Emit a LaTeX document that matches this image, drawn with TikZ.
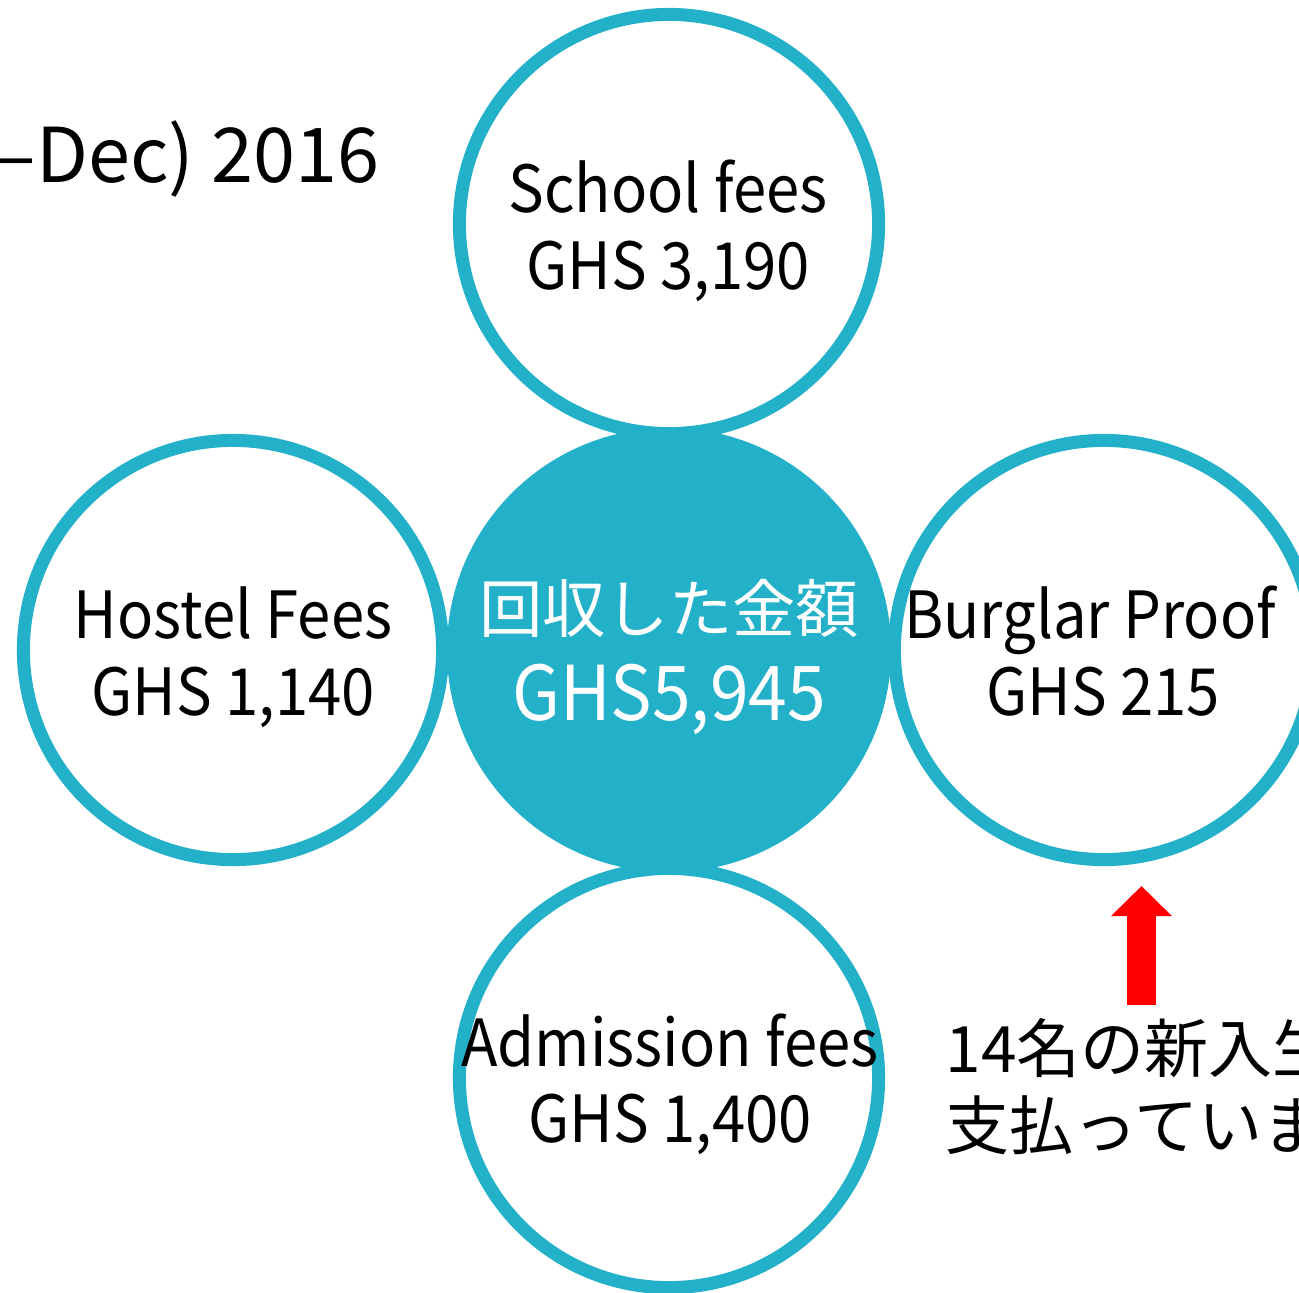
\documentclass[tikz,border=0pt]{standalone}
\usetikzlibrary{arrows.meta}
\usepackage{fontspec}
\setmainfont{Noto Sans CJK JP}
\newfontfamily\lat{Noto Sans CJK JP}[FakeStretch=0.92]
\newfontfamily\jp{Noto Sans CJK JP}
\definecolor{teal}{RGB}{35,176,201}
\definecolor{arrowred}{RGB}{255,0,0}
\tikzset{
  ring/.style={circle, draw=teal, line width=3.7pt, minimum size=419*0.2845pt, inner sep=0pt, fill=white},
  hub/.style={circle, fill=teal, minimum size=444*0.2845pt, inner sep=0pt},
  lbl/.style={font=\lat\fontsize{18.5}{22}\selectfont, align=center, inner sep=0pt},
  note/.style={inner sep=0pt, anchor=base west, align=left, font=\jp\fontsize{18.2}{21.8}\selectfont},
}
\begin{document}
\begin{tikzpicture}[x=0.01cm, y=-0.01cm]
\clip (0,0) rectangle (1299,1293);
\useasboundingbox (0,0) rectangle (1299,1293);
\fill[white] (0,0) rectangle (1299,1293);
% circles
\node[ring] (top) at (669,224) {};
\node[ring] (left) at (233,650) {};
\node[ring] (right) at (1104,650) {};
\node[ring] (bottom) at (669,1078) {};
\node[hub] (hub) at (669,650) {};
% labels
\node[lbl, anchor=base] (topa) at (668,212) {School fees};
\node[lbl, anchor=base] (topb) at (668,289) {GHS 3,190};
\node[lbl, anchor=base] (lefta) at (233,638) {Hostel Fees};
\node[lbl, anchor=base] (leftb) at (233,715) {GHS 1,140};
\node[lbl, anchor=base] (righta) at (1090,638) {Burglar Proof};
\node[lbl, anchor=base] (rightb) at (1103,715) {GHS 215};
\node[lbl, anchor=base] (bota) at (670,1066) {Admission fees};
\node[lbl, anchor=base] (botb) at (670,1142) {GHS 1,400};
\node[inner sep=0pt, anchor=base, text=white, font=\jp\fontsize{18}{22}\selectfont] (huba) at (669,632) {回収した金額};
\node[inner sep=0pt, anchor=base, text=white, font=\lat\fontsize{21.5}{26}\selectfont] (hubb) at (669,720) {GHS5,945};
% title (cut off at left, as in the reference)
\node[inner sep=0pt, anchor=base east, font=\jp\fontsize{21.5}{26}\selectfont] (title) at (380,182) {–Dec) 2016};
% note (cut off at right, as in the reference)
\node[note] (notea) at (945,1072) {14名の新入生};
\node[note] (noteb) at (945,1149) {支払っていま};
% arrow
\coordinate (abase) at (1141.5,1005);
\coordinate (atip) at (1141.5,886);
\draw[arrowred, line width=29*0.2845pt, -{Triangle[width=59*0.2845pt, length=30*0.2845pt]}] (abase) -- (atip);
\end{tikzpicture}
\end{document}
